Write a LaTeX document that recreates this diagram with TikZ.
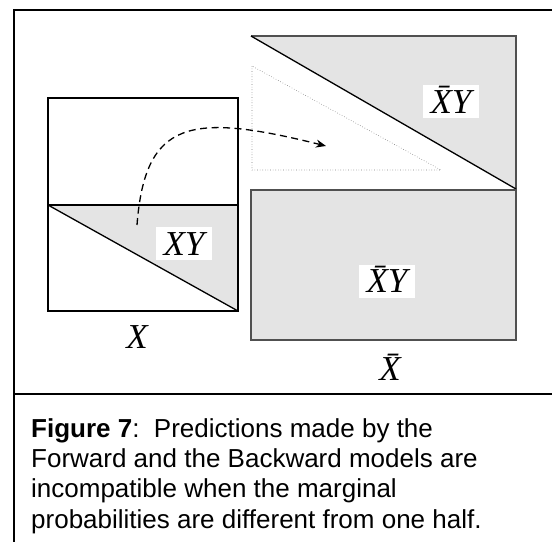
\documentclass[tikz,border=0pt]{standalone}
\usepackage{fontspec}
\setmainfont{Liberation Serif}
\newfontfamily\capfont{Liberation Sans}
\usetikzlibrary{arrows.meta}
\definecolor{shade}{RGB}{228,228,228}
\definecolor{edgegray}{RGB}{80,80,80}
\tikzset{
  frameline/.style={line width=2pt, black},
  boxline/.style={line width=1.3pt, black},
  grayline/.style={line width=1.3pt, edgegray},
  shaded/.style={fill=shade},
  dotline/.style={line width=0.6pt, gray, dotted},
  lbl/.style={font=\fontsize{35}{35}\selectfont\itshape, fill=white, inner xsep=8pt, inner ysep=5pt, text height=23pt, text depth=0pt, anchor=base},
  axlbl/.style={font=\fontsize{35}{35}\selectfont\itshape, inner sep=0pt, anchor=base},
  capline/.style={font=\capfont\fontsize{26}{30}\selectfont, inner sep=0pt, anchor=base west},
  flow/.style={line width=1.3pt, dash pattern=on 7pt off 4.5pt, -{Stealth[length=10pt,width=8pt]}}
}
\begin{document}
\begin{tikzpicture}[x=1pt,y=1pt]
\useasboundingbox (0,0) rectangle (552,-542);
% outer frame
\draw[frameline] (552,-10) -- (13.5,-10) -- (13.5,-542);
\draw[frameline] (13.5,-394) -- (552,-394);
% left box
\fill[shaded] (48,-205) -- (238,-205) -- (238,-311) -- cycle;
\draw[boxline] (48,-98) rectangle (238,-311);
\draw[boxline] (48,-205) -- (238,-205);
\draw[boxline] (48,-205) -- (238,-311);
% top right triangle
\fill[shaded] (251,-36) -- (516,-36) -- (516,-189) -- cycle;
\draw[grayline] (251,-36) -- (516,-36) -- (516,-189);
\draw[boxline] (251,-36) -- (516,-189);
% dotted triangle
\draw[dotline] (252,-66) -- (252,-170) -- (441,-170) -- cycle;
% bottom right rectangle
\fill[shaded] (251,-190) rectangle (516,-340);
\draw[grayline] (251,-190) rectangle (516,-340);
% labels
\node[lbl] (xy) at (184,-255) {XY};
\node[lbl] (xbary1) at (451,-113) {\=XY};
\node[lbl] (xbary2) at (387,-292.7) {\=XY};
\node[axlbl] (xl) at (137,-348) {X};
\node[axlbl] (xbar) at (390,-380.7) {\=X};
% dashed arrow
\coordinate (s) at (137,-225);
\coordinate (e) at (326,-146);
\draw[flow] (s) .. controls (145,-120) and (190,-112) .. (e);
% caption
\node[capline] (c1) at (31,-437) {\textbf{Figure 7}:\ \ Predictions made by the};
\node[capline] (c2) at (31,-467) {Forward and the Backward models are};
\node[capline] (c3) at (31,-497.5) {incompatible when the marginal};
\node[capline] (c4) at (31,-528) {probabilities are different from one half.};
\end{tikzpicture}
\end{document}
